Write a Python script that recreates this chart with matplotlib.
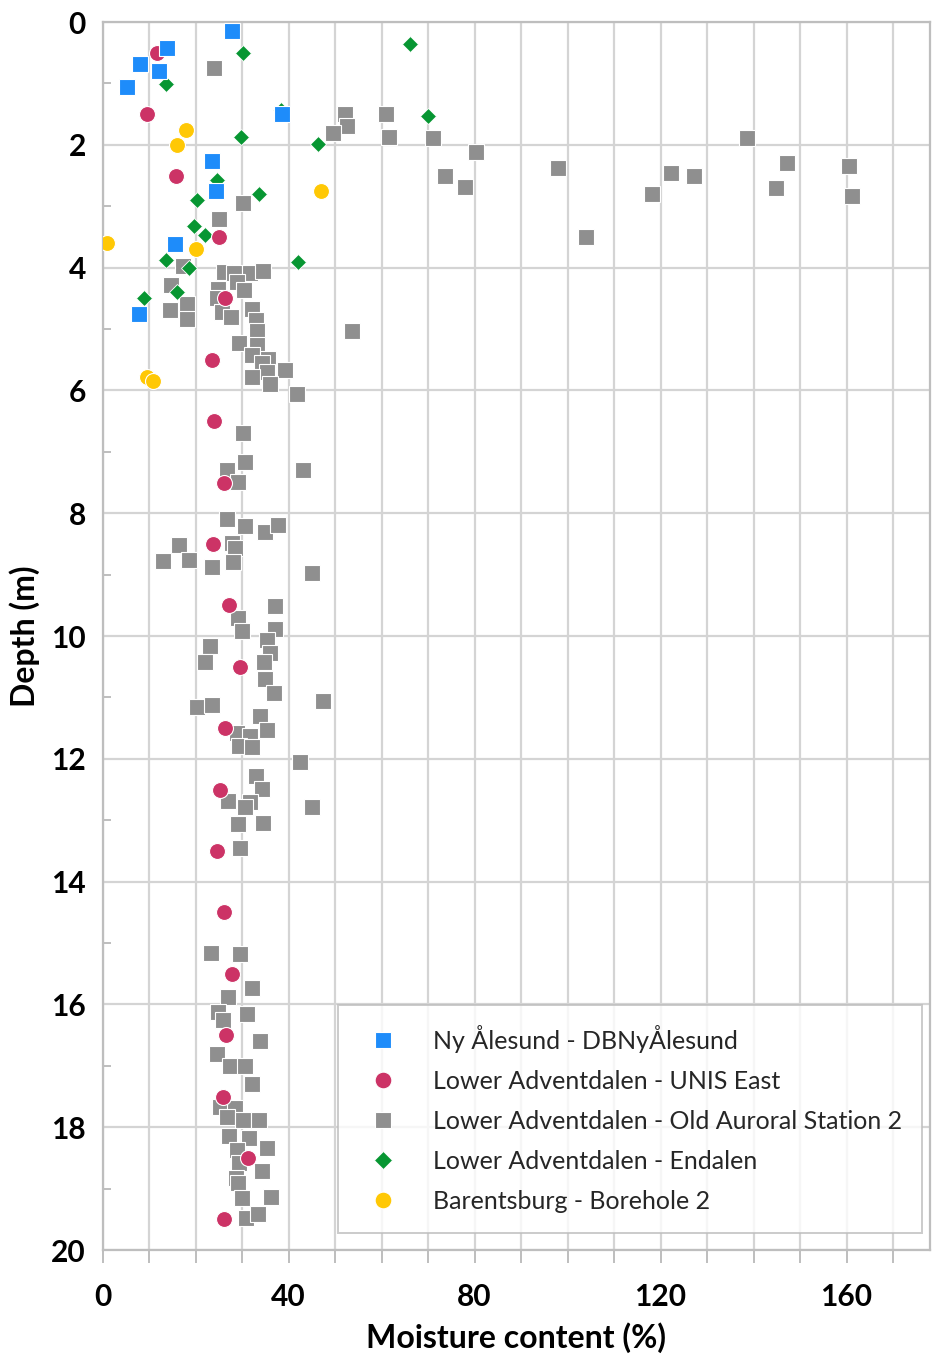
import numpy as np
import matplotlib
matplotlib.use("Agg")
from matplotlib import pyplot as plt
from matplotlib.ticker import MultipleLocator

plt.rcParams['font.family'] = ['Lato', 'DejaVu Sans']

## data: (moisture %, depth m)
ny_x = [27.9, 13.9, 8.1, 12.2, 5.3, 38.6, 23.5, 24.3, 15.5, 7.8]
ny_d = [0.15, 0.43, 0.69, 0.79, 1.05, 1.50, 2.26, 2.75, 3.61, 4.76]

unis_x = [11.6, 9.6, 15.8, 25.0, 26.3, 23.5, 24.0, 26.0, 23.8, 27.1,
          29.5, 26.3, 25.2, 24.6, 26.0, 27.8, 26.5, 25.8, 31.3, 26.0]
unis_d = [0.5, 1.5, 2.5, 3.5, 4.5, 5.5, 6.5, 7.5, 8.5, 9.5,
          10.5, 11.5, 12.5, 13.5, 14.5, 15.5, 16.5, 17.5, 18.5, 19.5]

oas_x = [24.0, 52.1, 52.6, 49.5, 61.0, 61.5, 71.1, 80.2, 73.6, 77.9, 98.0, 104.0,
         138.6, 122.3, 127.1, 118.2, 147.3, 144.8, 160.5, 161.2, 30.1, 25.1, 17.2,
         26.0, 28.3, 31.7, 34.4, 28.9, 14.7, 24.8, 30.4, 24.7, 18.2, 14.5, 25.6, 27.6,
         18.1, 32.2, 32.9, 33.2, 53.6, 29.4, 33.2, 32.1, 35.5, 34.2, 35.3, 39.2, 32.1,
         36.0, 41.8, 30.1, 30.7, 43.0, 26.7, 29.2,
         26.7, 30.7, 34.9, 37.7, 16.4, 27.8, 28.5, 12.9, 18.6, 23.5, 28.0, 45.1, 37.1,
         29.1, 30.0, 37.1, 35.3, 23.0, 36.0, 22.1, 34.7, 34.9, 36.9, 47.3, 20.4, 23.5,
         33.9, 35.3, 28.9, 31.6, 29.4, 32.2, 42.4, 32.9, 34.3, 26.9, 31.6, 30.6, 45.0,
         29.2, 34.4, 29.5,
         23.3, 29.6, 32.2, 26.9, 24.8, 25.8, 31.0, 33.8, 24.6, 27.3, 30.6, 32.2, 25.3,
         28.5, 26.7, 30.1, 33.6, 27.2, 31.4, 28.9, 35.3, 29.4, 34.2, 28.6, 29.1, 30.0,
         36.3, 30.8, 33.5]
oas_d = [0.75, 1.50, 1.70, 1.80, 1.50, 1.88, 1.89, 2.11, 2.50, 2.68, 2.38, 3.50,
         1.89, 2.46, 2.50, 2.80, 2.30, 2.70, 2.34, 2.83, 2.95, 3.21, 3.97,
         4.07, 4.08, 4.09, 4.06, 4.23, 4.28, 4.35, 4.36, 4.50, 4.59, 4.69, 4.72, 4.80,
         4.84, 4.67, 4.85, 5.03, 5.03, 5.22, 5.26, 5.42, 5.48, 5.56, 5.70, 5.67, 5.78,
         5.90, 6.05, 6.70, 7.17, 7.30, 7.30, 7.49,
         8.10, 8.20, 8.30, 8.19, 8.51, 8.49, 8.57, 8.77, 8.76, 8.87, 8.80, 8.98, 9.51,
         9.70, 9.92, 9.89, 10.07, 10.17, 10.28, 10.43, 10.43, 10.70, 10.92, 11.06, 11.16, 11.12,
         11.30, 11.53, 11.58, 11.63, 11.79, 11.81, 12.05, 12.28, 12.49, 12.69, 12.70, 12.79, 12.79,
         13.06, 13.05, 13.45,
         15.16, 15.18, 15.74, 15.88, 16.13, 16.25, 16.16, 16.60, 16.80, 17.00, 17.00, 17.30, 17.67,
         17.69, 17.84, 17.88, 17.89, 18.15, 18.17, 18.37, 18.33, 18.58, 18.71, 18.82, 18.91, 19.16,
         19.14, 19.47, 19.42]

end_x = [30.1, 66.2, 13.6, 38.4, 69.9, 29.8, 46.3, 24.5, 33.7, 20.2, 19.6, 22.0, 13.6, 42.1, 18.5, 16.0, 9.0]
end_d = [0.50, 0.35, 1.01, 1.44, 1.53, 1.87, 1.98, 2.57, 2.80, 2.90, 3.32, 3.46, 3.88, 3.90, 4.00, 4.40, 4.50]

bar_x = [17.9, 16.0, 47.0, 1.0, 20.0, 9.6, 10.9]
bar_d = [1.75, 2.00, 2.75, 3.60, 3.70, 5.78, 5.85]

labels = ['Ny Ålesund - DBNyÅlesund',
          'Lower Adventdalen - UNIS East',
          'Lower Adventdalen - Old Auroral Station 2',
          'Lower Adventdalen - Endalen',
          'Barentsburg - Borehole 2']

fig = plt.figure(figsize=(9.33, 13.62), dpi=100)
ax = fig.add_axes([0.110, 0.0822, 0.887, 0.9016])

ms = 11.5
h_blue, = ax.plot(ny_x, ny_d, 's', color='#1E8CFA', ms=ms, mec='white', mew=0.8, zorder=6)
h_red, = ax.plot(unis_x, unis_d, 'o', color='#CC3366', ms=ms, mec='white', mew=0.8, zorder=4)
h_gray, = ax.plot(oas_x, oas_d, 's', color='#8F8F8F', ms=ms, mec='white', mew=0.8, zorder=2)
h_green, = ax.plot(end_x, end_d, 'D', color='#079632', ms=8.5, mec='white', mew=0.6, zorder=3)
h_yel, = ax.plot(bar_x, bar_d, 'o', color='#FFC805', ms=ms, mec='white', mew=0.8, zorder=5)

ax.set_xlim(0, 178)
ax.set_ylim(20, 0)
ax.xaxis.set_major_locator(MultipleLocator(40))
ax.xaxis.set_minor_locator(MultipleLocator(10))
ax.yaxis.set_major_locator(MultipleLocator(2))
ax.yaxis.set_minor_locator(MultipleLocator(1))
ax.grid(True, which='major', axis='y', color='#D4D4D4', linewidth=1.6, zorder=0)
ax.grid(True, which='both', axis='x', color='#D4D4D4', linewidth=1.6, zorder=0)
ax.set_axisbelow(True)

for sp in ax.spines.values():
    sp.set_color('#BEBEBE')
    sp.set_linewidth(1.6)

ax.tick_params(axis='x', which='both', direction='out', length=9, width=1.4,
               color='#BEBEBE', pad=15, labelsize=21.5)
ax.tick_params(axis='y', which='major', length=0, pad=12, labelsize=21.5)
ax.tick_params(axis='y', which='minor', direction='in', length=6, width=1.4, color='#BEBEBE')
for t in ax.get_xticklabels() + ax.get_yticklabels():
    t.set_fontweight('bold')

ax.set_xlabel('Moisture content (%)', fontsize=23, fontweight='bold', labelpad=8)
ax.set_ylabel('Depth (m)', fontsize=23, fontweight='bold', labelpad=8)

leg = ax.legend([h_blue, h_red, h_gray, h_green, h_yel], labels,
                loc='lower right', bbox_to_anchor=(0.990, 0.014), borderaxespad=0,
                fontsize=18, frameon=True, fancybox=False, edgecolor='#BEBEBE',
                borderpad=0.8, labelspacing=0.68, handlelength=2.0, handletextpad=1.0,
                markerscale=1.05)
leg.get_frame().set_linewidth(1.4)
for t in leg.get_texts():
    t.set_color('#262626')

fig.savefig('out.png', dpi=100)
